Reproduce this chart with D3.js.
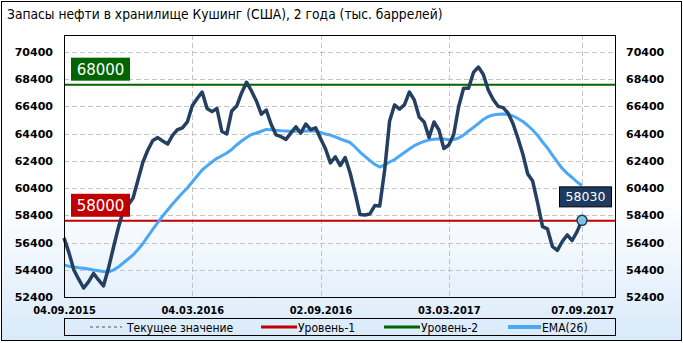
<!DOCTYPE html>
<html>
<head>
<meta charset="utf-8">
<script src="https://cdn.jsdelivr.net/npm/d3@7"></script>
<style>
  body { margin: 0; background: #fff; }
  svg { display: block; }
</style>
</head>
<body>
<svg id="chart"></svg>
<script>
// weekly Cushing stocks, thousand barrels (04.09.2015 .. 07.09.2017)
const stocks = [
  56740, 55660, 54380, 53690, 53060, 53530, 54130, 53650, 53210, 54490,
  56000, 57470, 58720, 59160, 59670, 61000, 62320, 63200, 63900, 64110,
  63860, 63640, 64270, 64690, 64820, 65260, 66460, 66980, 67460, 66250,
  66020, 66250, 64560, 64380, 66070, 66430, 67390, 68180, 67540, 66800,
  65830, 66140, 65070, 64310, 64180, 63980, 64460, 64910, 64440, 65110,
  64690, 64830, 64040, 63290, 62250, 62690, 62060, 62650, 61510, 60040,
  58460, 58430, 58500, 59120, 59090, 61730, 65330, 66510, 66210, 66510,
  67460, 66880, 65630, 65260, 64120, 65260, 64670, 63310, 63570, 64340,
  66400, 67740, 67740, 68900, 69300, 68750, 67610, 66910, 66410, 66310,
  65920, 65150, 64080, 62910, 61440, 60920, 59310, 57570, 57400, 56110,
  55820, 56480, 56960, 56550, 57200, 58030
];

const ema26 = [
  54750, 54660, 54600, 54550, 54510, 54460, 54380, 54330, 54270, 54240,
  54380, 54600, 54900, 55190, 55490, 55890, 56330, 56850, 57360, 57870,
  58350, 58790, 59230, 59640, 60040, 60410, 60850, 61290, 61730, 62030,
  62320, 62590, 62780, 62980, 63240, 63570, 63860, 64120, 64340, 64450,
  64580, 64710, 64690, 64650, 64620, 64600, 64580, 64570, 64560, 64600,
  64620, 64600, 64490, 64380, 64300, 64160, 64010, 63880, 63750, 63420,
  63050, 62740, 62430, 62140, 61950, 62100, 62320, 62500, 62760, 63020,
  63280, 63520, 63680, 63830, 63940, 63990, 64020, 64010, 63960, 63970,
  64080, 64300, 64600, 64860, 65150, 65440, 65660, 65770, 65830, 65850,
  65810, 65700, 65520, 65300, 65000, 64670, 64270, 63790, 63350, 62830,
  62320, 61840, 61480, 61180, 60850, 60590
];

const level1 = 58000;
const level2 = 68000;

const yTicks = d3.range(52400, 70401, 2000);
const xTickIdx = [0, 26, 52, 78, 105];
const xTickLabels = ["04.09.2015", "04.03.2016", "02.09.2016", "03.03.2017", "07.09.2017"];

const legendItems = [
  { name: "Текущее значение", color: "#555", width: 1, dash: "3,3" },
  { name: "Уровень-1", color: "#c00000", width: 3, dash: null },
  { name: "Уровень-2", color: "#006400", width: 3, dash: null },
  { name: "EMA(26)", color: "#4aa8f5", width: 4, dash: null }
];

const width = 683;
const height = 343;
const plot = { left: 64, right: 615, top: 35, bottom: 297 };

const svg = d3.select("#chart")
    .attr("width", width)
    .attr("height", height);

const defs = svg.append("defs");
const grad = defs.append("linearGradient")
    .attr("id", "bg")
    .attr("x1", 0).attr("y1", 0).attr("x2", 0).attr("y2", 1);
grad.append("stop").attr("offset", "0%").attr("stop-color", "#ffffff");
grad.append("stop").attr("offset", "58%").attr("stop-color", "#ffffff");
grad.append("stop").attr("offset", "100%").attr("stop-color", "#d9eafa");

svg.append("rect")
    .attr("x", 1.5).attr("y", 1.5)
    .attr("width", width - 3).attr("height", height - 4)
    .attr("fill", "url(#bg)")
    .attr("stroke", "#000")
    .attr("stroke-width", 1);

svg.append("text")
    .attr("x", 7)
    .attr("y", 19)
    .attr("font-family", "'DejaVu Sans Condensed', sans-serif")
    .attr("font-size", 13.7)
    .attr("fill", "#000")
    .text("Запасы нефти в хранилище Кушинг (США), 2 года (тыс. баррелей)");

const x = d3.scaleLinear()
    .domain([0, stocks.length - 1])
    .range([plot.left, 582]);

const y = d3.scaleLinear()
    .domain([52400, 71650])
    .range([plot.bottom, plot.top]);

// grid
const grid = svg.append("g")
    .attr("stroke", "#c4c4c4")
    .attr("stroke-width", 1)
    .attr("stroke-dasharray", "5,3");

grid.selectAll("line.h")
    .data(yTicks)
    .join("line")
        .attr("class", "h")
        .attr("x1", plot.left).attr("x2", plot.right)
        .attr("y1", d => Math.round(y(d)) + 0.5)
        .attr("y2", d => Math.round(y(d)) + 0.5);

grid.selectAll("line.v")
    .data(xTickIdx)
    .join("line")
        .attr("class", "v")
        .attr("x1", d => Math.round(x(d)) + 0.5)
        .attr("x2", d => Math.round(x(d)) + 0.5)
        .attr("y1", plot.top).attr("y2", plot.bottom);

// axes
const axisFont = "'DejaVu Sans', sans-serif";

const leftAxis = svg.append("g")
    .attr("transform", `translate(${plot.left},0)`)
    .call(d3.axisLeft(y).tickValues(yTicks).tickSize(0).tickPadding(11).tickFormat(d3.format("d")));

const rightAxis = svg.append("g")
    .attr("transform", `translate(${plot.right},0)`)
    .call(d3.axisRight(y).tickValues(yTicks).tickSize(0).tickPadding(11).tickFormat(d3.format("d")));

[leftAxis, rightAxis].forEach(g => {
    g.select(".domain").remove();
    g.selectAll("text")
        .attr("font-family", axisFont)
        .attr("font-size", 11)
        .attr("font-weight", "bold")
        .attr("fill", "#000");
});

const bottomAxis = svg.append("g")
    .attr("transform", `translate(0,${plot.bottom})`)
    .call(d3.axisBottom(x).tickValues(xTickIdx).tickSize(0).tickPadding(9)
        .tickFormat((d, i) => xTickLabels[i]));
bottomAxis.select(".domain").remove();
bottomAxis.selectAll("text")
    .attr("font-family", "'DejaVu Sans Condensed', sans-serif")
    .attr("font-size", 11)
    .attr("font-weight", "bold")
    .attr("fill", "#000");

// level lines
svg.append("line")
    .attr("x1", plot.left).attr("x2", plot.right)
    .attr("y1", y(level2)).attr("y2", y(level2))
    .attr("stroke", "#006400").attr("stroke-width", 2);

svg.append("line")
    .attr("x1", plot.left).attr("x2", plot.right)
    .attr("y1", y(level1)).attr("y2", y(level1))
    .attr("stroke", "#c00000").attr("stroke-width", 2);

// EMA line
svg.append("path")
    .datum(ema26)
    .attr("fill", "none")
    .attr("stroke", "#4aa8f5")
    .attr("stroke-width", 3)
    .attr("stroke-linejoin", "round")
    .attr("d", d3.line().x((d, i) => x(i)).y(d => y(d)));

// stocks line
svg.append("path")
    .datum(stocks)
    .attr("fill", "none")
    .attr("stroke", "#243f60")
    .attr("stroke-width", 3.5)
    .attr("stroke-linejoin", "round")
    .attr("d", d3.line().x((d, i) => x(i)).y(d => y(d)));

// level boxes
function levelBox(value, fill) {
    const by = y(value) - 4;
    svg.append("rect")
        .attr("x", 71).attr("y", by - 23)
        .attr("width", 59).attr("height", 23)
        .attr("fill", fill);
    svg.append("text")
        .attr("x", 100.5).attr("y", by - 6)
        .attr("text-anchor", "middle")
        .attr("font-family", "'DejaVu Sans', sans-serif")
        .attr("font-size", 15)
        .attr("fill", "#fff")
        .text(value);
}
levelBox(level2, "#006400");
levelBox(level1, "#c00000");

// last value marker
const lastI = stocks.length - 1;
const lastV = stocks[lastI];
const lx = x(lastI), ly = y(lastV);

svg.append("rect")
    .attr("x", lx - 22.5).attr("y", ly - 33.5)
    .attr("width", 52).attr("height", 20)
    .attr("fill", "#1d3a5f")
    .attr("stroke", "#000")
    .attr("stroke-width", 1);
svg.append("text")
    .attr("x", lx + 3.5).attr("y", ly - 19)
    .attr("text-anchor", "middle")
    .attr("font-family", "'DejaVu Sans', sans-serif")
    .attr("font-size", 12.5)
    .attr("fill", "#fff")
    .text(lastV);

svg.append("circle")
    .attr("cx", lx).attr("cy", ly)
    .attr("r", 5)
    .attr("fill", "#7cc3df")
    .attr("stroke", "#1d3a5f")
    .attr("stroke-width", 1.5);

// plot border
svg.append("rect")
    .attr("x", plot.left + 0.5).attr("y", plot.top + 0.5)
    .attr("width", plot.right - plot.left).attr("height", plot.bottom - plot.top)
    .attr("fill", "none")
    .attr("stroke", "#000")
    .attr("stroke-width", 1);

// legend
const legend = svg.append("g");
legend.append("rect")
    .attr("x", plot.left + 0.5).attr("y", 318.5)
    .attr("width", plot.right - plot.left).attr("height", 17)
    .attr("fill", "none")
    .attr("stroke", "#000");

const legendX = [90, 261, 384, 508];
const legendLen = [32, 36, 36, 33];
legendItems.forEach((item, i) => {
    legend.append("line")
        .attr("x1", legendX[i]).attr("x2", legendX[i] + legendLen[i])
        .attr("y1", 327).attr("y2", 327)
        .attr("stroke", item.color)
        .attr("stroke-width", item.width)
        .attr("stroke-dasharray", item.dash);
    legend.append("text")
        .attr("x", legendX[i] + legendLen[i] + (i === 0 ? 5 : 1))
        .attr("y", 331.5)
        .attr("font-family", "'DejaVu Sans Condensed', sans-serif")
        .attr("font-size", 12)
        .attr("fill", "#000")
        .text(item.name);
});
</script>
</body>
</html>
